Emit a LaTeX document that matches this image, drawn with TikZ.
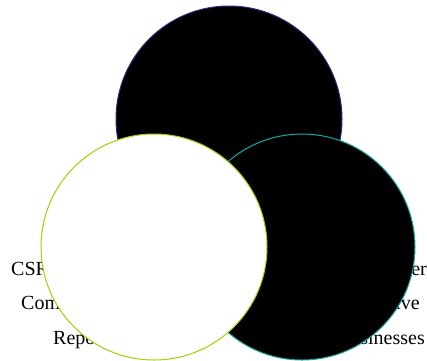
\documentclass[tikz,border=0pt]{standalone}
\usepackage{fontspec}
\setmainfont{Liberation Serif}
\begin{document}
\begin{tikzpicture}[x=1pt,y=-1pt,
  lbl/.style={font=\fontsize{20}{22}\selectfont, inner sep=0pt},
  circ/.style={circle, minimum size=226pt, inner sep=0pt, line width=1pt}]
\useasboundingbox (0,0) rectangle (427,360);
\node[lbl, anchor=base west] (l1) at (11,275) {CSR Strategy};
\node[lbl, anchor=base west] (l2) at (21,309) {Communication};
\node[lbl, anchor=base west] (l3) at (53,344) {Reporting};
\node[lbl, anchor=base east] (r1) at (427,275) {Stakeholder};
\node[lbl, anchor=base east] (r2) at (420,309) {Competitive};
\node[lbl, anchor=base east] (r3) at (425,344) {Businesses};
\node[circ, draw={rgb,255:red,50;green,40;blue,130}, fill=black] (top) at (229,119) {};
\node[circ, draw={rgb,255:red,20;green,170;blue,165}, fill=black] (right) at (302,247) {};
\node[circ, draw={rgb,255:red,160;green,210;blue,0}, fill=white] (left) at (154,247) {};
\end{tikzpicture}
\end{document}
